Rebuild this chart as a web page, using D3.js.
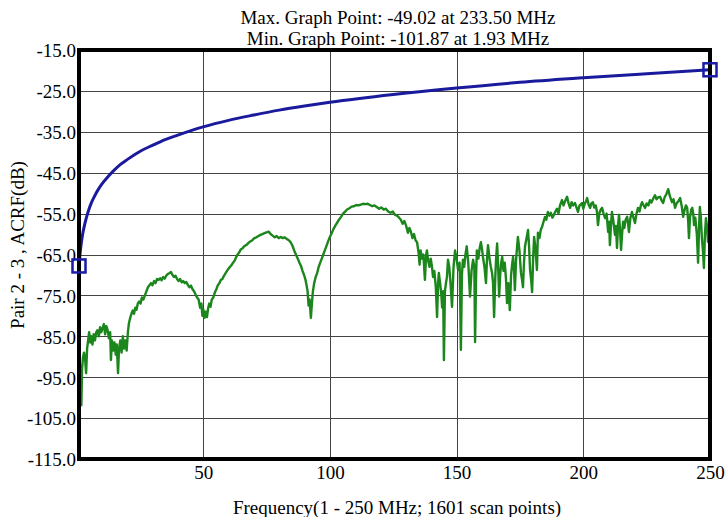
<!DOCTYPE html>
<html><head><meta charset="utf-8">
<script src="https://cdn.jsdelivr.net/npm/d3@7"></script>
<style>
html,body{margin:0;padding:0;background:#fff;}
svg text{font-family:"Liberation Serif","Times New Roman",serif;fill:#000;}
</style></head>
<body><svg id="chart" width="726" height="517"></svg>
<script>
const titleLines = ["Max. Graph Point: -49.02 at 233.50 MHz", "Min. Graph Point: -101.87 at 1.93 MHz"];
const xAxisTitle = "Frequency(1 - 250 MHz; 1601 scan points)";
const yAxisTitle = "Pair 2 - 3 , ACRF(dB)";
const xTicks = [50, 100, 150, 200, 250];
const yTicks = [-15, -25, -35, -45, -55, -65, -75, -85, -95, -105, -115];

// limit line (blue)
const limitLine = [[1,-67.8],[1.5,-64.3],[2,-61.8],[2.5,-59.8],[3,-58.3],[4,-55.8],[5,-53.8],[6,-52.2],[7,-50.9],[8.5,-49.2],[10,-47.8],[12.5,-45.9],[15,-44.3],[17.5,-42.9],[20,-41.8],[25,-39.8],[30,-38.3],[35,-36.9],[40,-35.8],[50,-33.8],[60,-32.2],[70,-30.9],[80,-29.7],[90,-28.7],[100,-27.8],[125,-25.9],[150,-24.3],[175,-22.9],[200,-21.8],[225,-20.8],[250,-19.84]];
const limitMarkers = [[1,-67.8],[250,-19.84]];

// measured ACRF (green)
const measured = [[1.0,-92.5],[1.3,-91.0],[1.6,-96],[1.93,-101.87],[2.2,-93],[2.6,-90],[3.0,-89],[3.4,-90.5],[3.8,-94],[4.2,-88],[4.6,-86],[5.0,-84],[5.4,-86.5],[5.8,-85],[6.3,-87],[6.8,-84.5],[7.3,-86],[7.8,-84],[8.3,-83.5],[8.8,-85],[9.3,-82.8],[9.8,-84],[10.3,-83],[10.8,-82],[11.3,-84.5],[11.8,-82.5],[12.3,-83.5],[12.8,-85.5],[13.3,-84],[13.6,-90.8],[14.0,-86],[14.5,-88.5],[15.0,-86.5],[15.5,-89.5],[15.9,-87],[16.4,-94],[16.8,-88],[17.3,-86],[17.8,-89],[18.3,-85],[18.8,-88],[19.3,-86],[19.8,-88.5],[20.3,-84],[20.7,-81.8],[21.2,-80.5],[21.7,-79.5],[22.2,-78.7],[22.7,-79.5],[23.2,-78],[23.7,-78.5],[24.2,-77],[24.7,-76.5],[25.3,-77],[25.8,-75.5],[26.4,-76],[27,-75],[27.6,-74],[28.2,-73],[28.8,-72.5],[29.4,-72],[30,-72.5],[30.6,-71.5],[31.2,-72],[31.8,-71],[32.4,-71.2],[33,-70.8],[33.6,-71.3],[34.2,-70.5],[34.8,-70.9],[35.4,-70.2],[36,-69.8],[36.6,-69.6],[37.3,-69.3],[37.9,-70],[38.5,-70.5],[39.1,-70.2],[39.7,-71],[40.3,-71.5],[40.9,-71],[41.5,-71.8],[42.1,-71.5],[42.7,-72],[43.3,-71.7],[44,-72.5],[44.6,-73],[45.2,-72.6],[45.8,-73.5],[46.4,-74],[47,-74.8],[47.6,-75.5],[48.2,-76],[48.8,-78],[49.3,-77],[49.7,-80],[50.1,-78.5],[50.5,-80.5],[51,-79],[51.5,-80.3],[52,-78],[52.4,-77],[52.9,-77.8],[53.4,-76],[54,-75.5],[54.6,-74.3],[55.2,-73.5],[55.8,-72.5],[56.4,-72],[57,-71.2],[57.6,-71],[58.2,-70.2],[58.8,-69.6],[59.4,-69],[60,-68.5],[60.6,-68],[61.2,-67.6],[61.8,-67],[62.4,-66.5],[63,-65.7],[63.6,-65],[64.2,-64.5],[64.8,-63.8],[65.5,-63.5],[66.2,-63],[67,-62.7],[67.8,-62.2],[68.6,-61.8],[69.4,-61.5],[70.2,-61],[71,-60.8],[71.8,-60.5],[72.6,-60.2],[73.4,-60],[74.2,-59.8],[75,-59.6],[75.8,-59.4],[76.6,-60],[77.4,-60.4],[78.2,-60.8],[79,-60.5],[79.8,-61],[80.6,-60.7],[81.4,-61],[82.2,-60.8],[83,-61.2],[83.8,-61.5],[84.5,-62],[85.2,-62.8],[85.9,-64],[86.6,-65],[87.3,-66],[88,-67],[88.6,-67.8],[89.2,-69],[89.8,-70],[90.3,-71],[90.8,-72.5],[91.2,-74],[91.6,-77.5],[92.0,-76],[92.5,-80.5],[92.9,-77],[93.3,-74],[93.8,-72],[94.4,-70.5],[95,-69.5],[95.6,-68],[96.2,-67],[96.8,-66],[97.4,-65],[98,-64],[98.6,-63],[99.3,-61.8],[100,-60.7],[100.7,-59.8],[101.4,-58.8],[102.1,-58],[102.8,-57.3],[103.6,-56.5],[104.4,-55.8],[105.2,-55],[106,-54.5],[106.8,-54],[107.7,-53.7],[108.6,-53.3],[109.5,-53.2],[110.4,-52.9],[111.3,-53],[112.2,-52.8],[113.1,-52.6],[114,-52.7],[114.9,-52.6],[115.8,-52.9],[116.7,-53.2],[117.6,-53],[118.5,-53.4],[119.4,-53.8],[120.3,-53.5],[121.2,-54],[122.1,-53.8],[123,-54.5],[123.9,-54.8],[124.8,-54.5],[125.7,-55.3],[126.5,-55.5],[127.3,-56],[128,-56.5],[128.7,-57.5],[129.4,-56.8],[130.1,-58],[130.8,-59.7],[131.4,-58.5],[132,-59.5],[132.6,-61],[133.2,-60],[133.8,-61.5],[134.4,-62],[135,-64.5],[135.4,-67.5],[135.8,-64],[136.3,-66],[136.9,-65],[137.5,-71.2],[138,-65],[138.3,-64],[138.8,-66.5],[139.3,-68],[139.8,-66],[140.3,-68],[140.7,-70.5],[141.2,-69],[141.8,-73],[142.3,-80.3],[142.7,-72],[143,-69.5],[143.5,-72],[144,-75],[144.3,-78],[144.7,-74],[145,-90.8],[145.4,-74],[145.8,-72],[146.2,-70.5],[146.6,-66.3],[147.1,-68],[147.6,-72],[148.2,-77.8],[148.8,-68],[149.4,-64],[150,-66],[150.6,-68.8],[151.2,-67],[151.7,-88.3],[152.1,-70],[152.5,-66.3],[153,-68],[153.5,-65],[154,-63],[154.6,-67],[155.3,-75.3],[155.9,-69],[156.5,-66.3],[157,-68],[157.3,-86.4],[157.7,-70],[158,-64],[158.6,-66],[159.1,-63.5],[159.6,-62],[160.1,-64],[160.4,-65.6],[161,-68],[161.6,-72],[162,-66],[162.4,-62.7],[163,-66],[163.5,-68],[164,-69.5],[164.4,-72],[164.8,-80.3],[165.3,-70],[165.6,-66],[166,-62.3],[166.4,-68],[166.8,-75.3],[167.2,-70],[167.6,-67],[168,-65.6],[168.5,-69],[169,-67],[169.5,-71],[169.9,-76.9],[170.4,-72],[171,-78.6],[171.5,-70],[172,-67],[172.3,-65.6],[172.7,-69],[173,-73.7],[173.5,-66],[174.2,-60.7],[174.8,-64],[175.4,-69.5],[175.8,-71],[176.2,-73],[176.6,-67],[177,-63],[177.6,-61],[178.2,-59],[178.6,-63],[179,-68.8],[179.4,-71],[179.8,-74.2],[180.2,-66],[180.6,-60.7],[181.2,-64],[181.7,-68.8],[182.1,-59.7],[182.7,-61],[183.2,-59],[183.7,-58.3],[184.3,-57],[184.9,-55.8],[185.4,-56.5],[186,-54.6],[186.6,-55.5],[187.2,-54.8],[187.8,-56],[188.4,-55.3],[189,-54.5],[189.6,-53.8],[190.2,-55],[190.8,-53],[191.6,-51.7],[192.2,-53],[192.8,-52],[193.6,-50.9],[194.2,-52.5],[194.8,-53.6],[195.4,-52.2],[196,-53],[196.7,-52.4],[197.3,-53.5],[197.9,-54.6],[198.5,-53],[199,-52.8],[199.5,-52.4],[200,-53.8],[200.6,-52.5],[201.1,-52],[201.5,-51.2],[202.1,-52.8],[202.7,-53.6],[203.2,-52.5],[203.8,-52.2],[204.3,-53.5],[204.9,-53],[205.4,-54.6],[205.8,-57.8],[206.3,-55],[206.9,-54],[207.4,-53.6],[208,-55],[208.6,-56.1],[209.2,-55],[209.8,-59.5],[210.2,-57],[210.5,-62.7],[210.9,-58],[211.3,-54.6],[211.9,-57],[212.5,-60.2],[212.9,-58],[213.3,-63.4],[213.7,-58],[214.1,-55.3],[214.5,-59],[214.9,-63.9],[215.3,-60],[215.7,-57],[216.2,-58.5],[216.7,-56.5],[217.3,-55.8],[217.7,-57.5],[218,-59.5],[218.6,-56],[219.2,-54.6],[219.8,-56],[220.4,-57.3],[221,-55],[221.6,-53.6],[222.2,-54.5],[222.7,-53],[223.2,-52.2],[223.8,-53],[224.4,-53.6],[225,-52.5],[225.7,-53],[226.3,-51.7],[226.9,-52.3],[227.6,-51.3],[228.3,-50.5],[228.9,-51.5],[229.6,-51],[230.3,-50.9],[230.9,-51.8],[231.5,-52.4],[232.1,-51],[232.8,-50.2],[233.5,-49.02],[234.2,-50.8],[235,-52.2],[235.6,-51.5],[236.2,-53.6],[236.8,-52.5],[237.5,-52],[238.2,-51.2],[238.8,-53],[239.4,-55.8],[240,-54],[240.5,-53],[241,-53.6],[241.4,-57],[241.7,-61],[242.1,-56],[242.6,-54],[243,-53.6],[243.4,-55],[243.7,-57.8],[244.2,-56],[244.8,-60],[245.3,-67],[245.7,-58],[246,-53.4],[246.4,-56],[246.8,-61],[247.2,-64],[247.6,-68.3],[248,-60],[248.4,-56.1],[248.8,-58],[249.2,-61.9],[249.6,-60],[250,-65]];

const svg = d3.select("#chart");
const L = 79, R = 710, T = 50, B = 459;
const FS = 19;
const x = d3.scaleLinear().domain([1, 250]).range([L, R]);
const y = d3.scaleLinear().domain([-115, -15]).range([B, T]);

// grid
const grid = svg.append("g");
grid.selectAll("line.h").data(yTicks).join("line")
  .attr("x1", L).attr("x2", R)
  .attr("y1", d => Math.round(y(d)) + 0.5).attr("y2", d => Math.round(y(d)) + 0.5)
  .attr("stroke", "#444").attr("stroke-width", 1);
grid.selectAll("line.v").data(xTicks).join("line")
  .attr("y1", T).attr("y2", B)
  .attr("x1", d => Math.round(x(d)) + 0.5).attr("x2", d => Math.round(x(d)) + 0.5)
  .attr("stroke", "#444").attr("stroke-width", 1);

// axes (labels only)
const yAxis = d3.axisLeft(y).tickValues(yTicks).tickFormat(d => d.toFixed(1)).tickSize(0).tickPadding(2);
const gy = svg.append("g").attr("transform", `translate(${L - 1},0)`).call(yAxis);
gy.select(".domain").remove();
gy.selectAll("text").attr("font-size", FS).attr("font-family", "Liberation Serif").attr("dy", "0.36em");

const xAxis = d3.axisBottom(x).tickValues(xTicks).tickFormat(d => String(d)).tickSize(0).tickPadding(7);
const gx = svg.append("g").attr("transform", `translate(0,${B})`).call(xAxis);
gx.select(".domain").remove();
gx.selectAll("text").attr("font-size", FS).attr("font-family", "Liberation Serif");

// lines
const line = d3.line().x(d => x(d[0])).y(d => y(d[1]));
svg.append("path").datum(measured).attr("d", line)
  .attr("fill", "none").attr("stroke", "#1b861b").attr("stroke-width", 2.4).attr("stroke-linejoin", "round");

const limitPath = d3.line().x(d => x(d[0])).y(d => y(d[1])).curve(d3.curveMonotoneX);
svg.append("path").datum(limitLine).attr("d", limitPath)
  .attr("fill", "none").attr("stroke", "#1a1a9c").attr("stroke-width", 3);

// frame
svg.append("rect").attr("x", L).attr("y", T).attr("width", R - L).attr("height", B - T)
  .attr("fill", "none").attr("stroke", "#000").attr("stroke-width", 4);

// markers
svg.selectAll("rect.mk").data(limitMarkers).join("rect")
  .attr("x", d => x(d[0]) - 6.5).attr("y", d => y(d[1]) - 6.5)
  .attr("width", 13).attr("height", 13)
  .attr("fill", "none").attr("stroke", "#1a1aa8").attr("stroke-width", 2.5);

// titles
svg.selectAll("text.title").data(titleLines).join("text")
  .attr("x", 398).attr("y", (d, i) => 24 + i * 21)
  .attr("text-anchor", "middle").attr("font-size", FS).text(d => d);

svg.append("text").attr("x", 397).attr("y", 514).attr("text-anchor", "middle")
  .attr("font-size", FS).text(xAxisTitle);

svg.append("text").attr("transform", "translate(24,245) rotate(-90)")
  .attr("text-anchor", "middle").attr("font-size", FS).text(yAxisTitle);
</script>
</body></html>
